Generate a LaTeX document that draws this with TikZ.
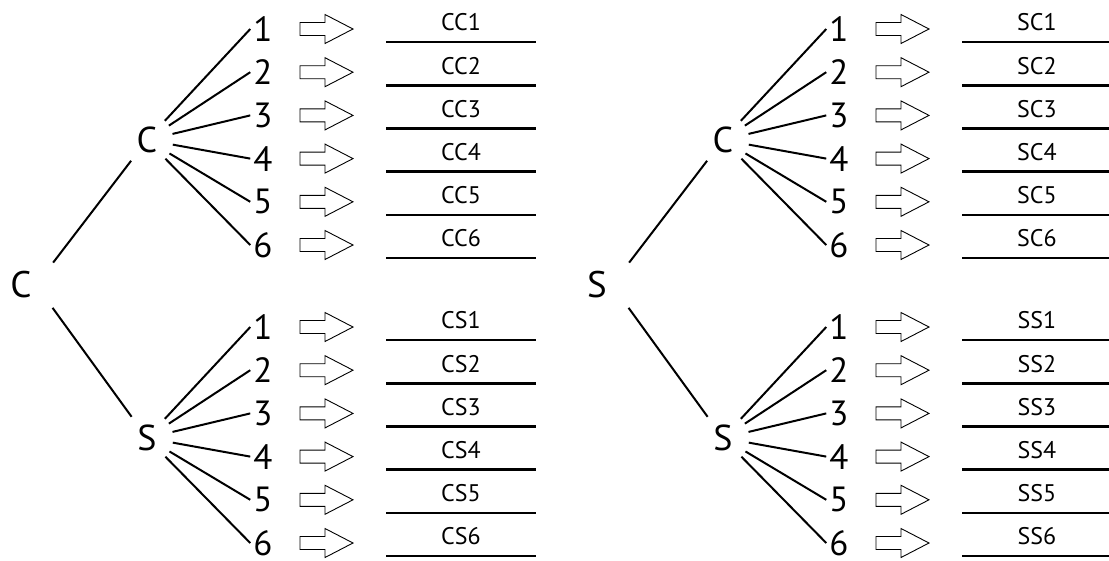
\documentclass[tikz,border=0pt]{standalone}
\usepackage{fontspec}
\setmainfont{PT Sans}
\begin{document}
\begin{tikzpicture}[x=1pt,y=-1pt,
  tree/.style={line width=2pt},
  hub/.style={circle, inner sep=0pt, minimum size=56pt},
  mid/.style={circle, inner sep=0pt, minimum size=52pt, font=\fontsize{36}{38}\selectfont},
  roottxt/.style={inner sep=0pt, font=\fontsize{37}{40}\selectfont},
  num/.style={inner sep=3pt, font=\fontsize{35}{37}\selectfont},
  lab/.style={inner sep=0pt, font=\fontsize{24}{26}\selectfont},
  uline/.style={line width=2.6pt},
  fat/.style={line width=0.9pt, line join=miter},
  fatarrow/.pic={\draw[fat] (-26.5,-6.5) -- (-1.5,-6.5) -- (-1.5,-14.5) -- (26.5,0) -- (-1.5,14.5) -- (-1.5,6.5) -- (-26.5,6.5) -- cycle;}
]
\useasboundingbox (0,0) rectangle (1109,560);
\foreach \h/\dx/\R in {L/0/C, R/576/S} {
  \node[roottxt] (rt\h) at (21+\dx,285) {\R};
  \node[hub] (r\h) at (36+\dx,285) {};
  \foreach \s/\dy in {C/0, S/298} {
    \node[mid] (m\h\s) at (147+\dx,140+\dy) {\s};
    \draw[tree] (r\h) -- (m\h\s);
    \foreach \i in {1,...,6} {
      \pgfmathsetmacro\y{29+43.2*(\i-1)+\dy}
      \node[num] (n\h\s\i) at (263+\dx,\y) {\i};
      \draw[tree] (m\h\s) -- (n\h\s\i.west);
      \pic at (326.5+\dx,\y) {fatarrow};
      \coordinate (ua\h\s\i) at (386+\dx,\y+13);
      \coordinate (ub\h\s\i) at (536+\dx,\y+13);
      \draw[uline] (ua\h\s\i) -- (ub\h\s\i);
      \node[lab] (l\h\s\i) at (461+\dx,\y-6.5) {\R\s\i};
    }
  }
}
\end{tikzpicture}
\end{document}
